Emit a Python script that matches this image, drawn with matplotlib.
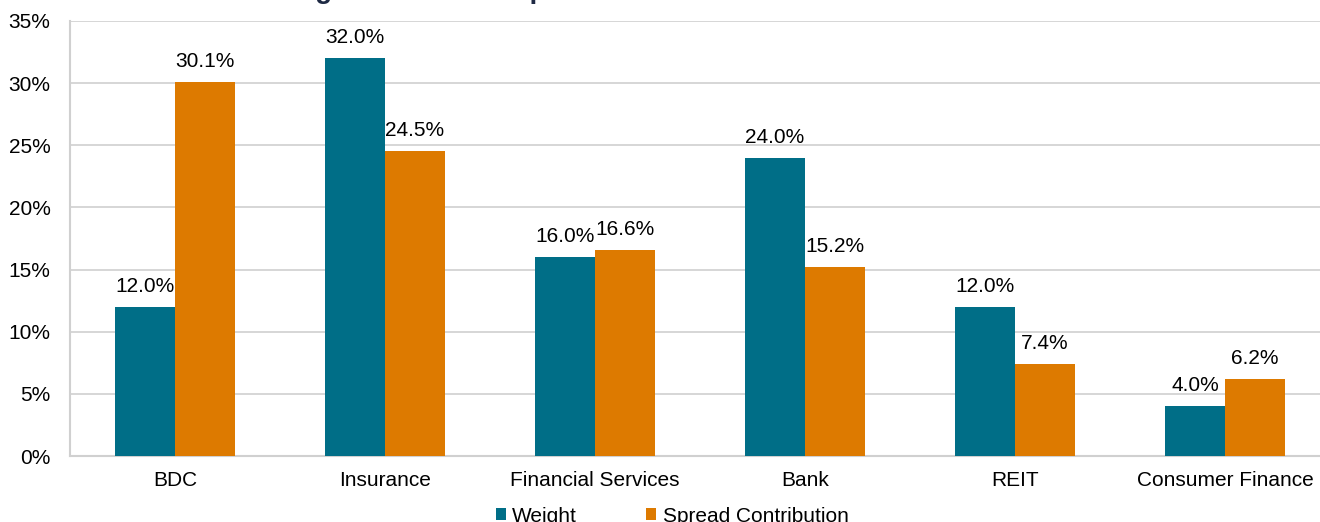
import matplotlib
matplotlib.use("Agg")
import matplotlib.pyplot as plt
import numpy as np

categories = ["BDC", "Insurance", "Financial Services", "Bank", "REIT", "Consumer Finance"]
weight = [12.0, 32.0, 16.0, 24.0, 12.0, 4.0]
spread = [30.1, 24.5, 16.6, 15.2, 7.4, 6.2]
series_names = ["Weight", "Spread Contribution"]
yticks = [0, 5, 10, 15, 20, 25, 30, 35]
title = "Sector Weight and Credit Spread Contribution"

plt.rcParams['font.family'] = ['Liberation Sans', 'DejaVu Sans']

W, H = 1320, 522
fig = plt.figure(figsize=(W / 100, H / 100), dpi=100)
ax = fig.add_axes([70 / W, (H - 456) / H, 1260 / W, (456 - 21) / H])

teal = "#006E87"
orange = "#DD7A00"
grid_c = "#D0D0D0"
fs = 15
bw = 60 / 210
x = np.arange(len(categories))
b1 = ax.bar(x - bw / 2, weight, bw, color=teal, label=series_names[0], zorder=3)
b2 = ax.bar(x + bw / 2, spread, bw, color=orange, label=series_names[1], zorder=3)

for bars, vals in ((b1, weight), (b2, spread)):
    for rect, v in zip(bars, vals):
        ax.annotate(f"{v:.1f}%", (rect.get_x() + rect.get_width() / 2, v),
                    xytext=(0, 8), textcoords="offset points",
                    ha="center", va="bottom", fontsize=fs, color="#000000")

ax.set_xlim(-0.5, len(categories) - 0.5)
ax.set_ylim(0, 35)
ax.set_yticks(yticks)
ax.set_yticklabels([f"{t}%" for t in yticks], fontsize=fs)
ax.set_xticks(x)
ax.set_xticklabels(categories, fontsize=fs)
ax.tick_params(axis="both", length=0)
ax.tick_params(axis="y", pad=14)
ax.tick_params(axis="x", pad=11)
ax.yaxis.grid(True, color=grid_c, linewidth=1.2, zorder=0)
ax.set_axisbelow(True)
for s in ("top", "right"):
    ax.spines[s].set_visible(False)
for s in ("left", "bottom"):
    ax.spines[s].set_color(grid_c)
    ax.spines[s].set_linewidth(1.5)

leg = fig.legend(handles=[b1, b2], labels=series_names, loc="center",
                 bbox_to_anchor=(672 / W, (H - 516) / H), ncol=2, frameon=False,
                 fontsize=fs, handlelength=0.5, handleheight=0.5,
                 handletextpad=0.3, columnspacing=3.3)

# partially visible title at top (clipped by figure edge)
renderer = fig.canvas.get_renderer()
tmp = fig.text(0, 0, "Sector Wei", fontsize=20, fontweight="bold")
prefix_w = tmp.get_window_extent(renderer).width
tmp.remove()
fig.text((315 - prefix_w) / W, 1 + 2 / H, title, fontsize=20, fontweight="bold",
         color="#1F2A44", ha="left", va="baseline")

fig.savefig("out.png", dpi=100)
